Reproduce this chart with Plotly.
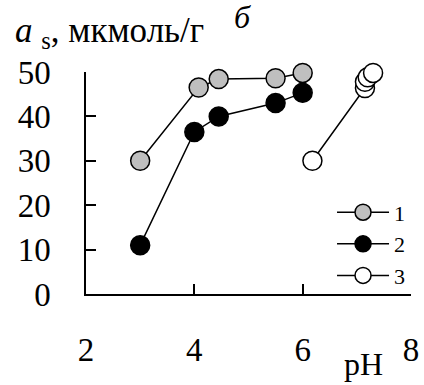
import plotly.graph_objects as go

ph1 = [3.0, 4.08, 4.45, 5.5, 6.0]
as1 = [30.0, 46.5, 48.4, 48.6, 49.8]
ph2 = [3.0, 4.0, 4.45, 5.5, 6.0]
as2 = [11.0, 36.5, 40.0, 43.0, 45.3]
ph3 = [6.18, 7.15, 7.15, 7.2, 7.3]
as3 = [30.0, 46.4, 47.8, 48.8, 49.8]
names = ["1", "2", "3"]
fills = ["#bfbfbf", "#000000", "#ffffff"]

FONT = "Liberation Serif, Times New Roman, serif"

fig = go.Figure()
for xs, ys, nm, fc in zip([ph1, ph2, ph3], [as1, as2, as3], names, fills):
    fig.add_trace(go.Scatter(
        x=xs, y=ys, name=nm, mode="lines+markers",
        line=dict(color="black", width=1.5),
        marker=dict(size=19, color=fc, line=dict(color="black", width=1.5)),
        cliponaxis=False,
    ))

fig.update_layout(
    width=424, height=385,
    margin=dict(l=86, r=13, t=72, b=91),
    plot_bgcolor="white", paper_bgcolor="white",
    font=dict(family=FONT, size=33, color="black"),
    showlegend=True,
    legend=dict(x=0.757, y=0.462, xanchor="left", yanchor="top",
                bgcolor="rgba(0,0,0,0)", font=dict(size=22, family=FONT),
                itemwidth=52, tracegroupgap=0),
    xaxis=dict(range=[2, 8], tickvals=[2, 4, 6, 8], showline=True, linecolor="black",
               linewidth=1.5, ticks="inside", ticklen=10, tickwidth=1.5, tickcolor="black",
               showgrid=False, zeroline=False, ticklabelstandoff=26, automargin=False),
    yaxis=dict(range=[0, 50], tickvals=[0, 10, 20, 30, 40, 50], showline=True, linecolor="black",
               linewidth=1.5, ticks="inside", ticklen=10, tickwidth=1.5, tickcolor="black",
               showgrid=False, zeroline=False, ticklabelstandoff=27, automargin=False),
    annotations=[
        dict(text="<i>a</i> <sub>s</sub>, мкмоль/г", x=-0.2246, y=1.18, xref="paper", yref="paper",
             xanchor="left", yanchor="middle", showarrow=False, font=dict(size=35, family=FONT)),
        dict(text="<i>б</i>", x=0.483, y=1.25, xref="paper", yref="paper",
             xanchor="center", yanchor="middle", showarrow=False, font=dict(size=32, family=FONT)),
        dict(text="pH", x=0.855, y=-0.315, xref="paper", yref="paper",
             xanchor="center", yanchor="middle", showarrow=False, font=dict(size=32, family=FONT)),
    ],
)

fig.write_html("out.html")
